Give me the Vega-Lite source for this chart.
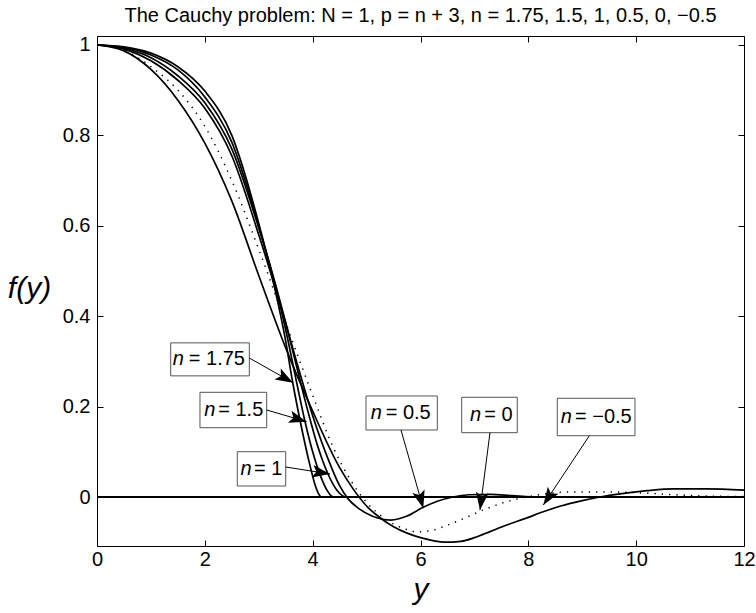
{
  "$schema": "https://vega.github.io/schema/vega-lite/v6.json",
  "width": 647,
  "height": 510,
  "autosize": "none",
  "padding": {"left": 97, "top": 36, "right": 12, "bottom": 67},
  "background": "white",
  "config": {
    "view": {"stroke": "black", "strokeWidth": 1},
    "font": "Liberation Sans",
    "axis": {
      "domain": false, "grid": false, "tickColor": "black", "tickSize": -6, "tickWidth": 1, "labelFlush": false,
      "labelFont": "Liberation Sans", "labelFontSize": 20, "labelColor": "black", "labelPadding": 13,
      "titleFont": "Liberation Sans", "titleFontStyle": "italic", "titleFontWeight": "normal", "titleFontSize": 30, "titleColor": "black"
    }
  },
  "title": {"text": "The Cauchy problem: N = 1, p = n + 3, n = 1.75, 1.5, 1, 0.5, 0, −0.5", "font": "Liberation Sans", "fontSize": 20, "fontWeight": "normal", "color": "black", "offset": 9, "anchor": "middle"},
  "datasets": {
    "curves": [
      {"n": 1.75, "y": 0, "f": 1}, {"n": 1.75, "y": 0.5, "f": 0.996}, {"n": 1.75, "y": 1, "f": 0.982}, {"n": 1.75, "y": 1.5, "f": 0.952}, {"n": 1.75, "y": 2, "f": 0.898}, {"n": 1.75, "y": 2.5, "f": 0.8}, {"n": 1.75, "y": 3, "f": 0.605}, {"n": 1.75, "y": 3.3, "f": 0.46}, {"n": 1.75, "y": 3.5, "f": 0.345}, {"n": 1.75, "y": 3.62, "f": 0.26}, {"n": 1.75, "y": 3.8, "f": 0.15}, {"n": 1.75, "y": 3.95, "f": 0.07}, {"n": 1.75, "y": 4.05, "f": 0.025}, {"n": 1.75, "y": 4.12, "f": 0.005}, {"n": 1.75, "y": 4.16, "f": 0}, {"n": 1.75, "y": 12, "f": 0},
      {"n": 1.5, "y": 0, "f": 1}, {"n": 1.5, "y": 0.5, "f": 0.995}, {"n": 1.5, "y": 1, "f": 0.978}, {"n": 1.5, "y": 1.5, "f": 0.945}, {"n": 1.5, "y": 2, "f": 0.885}, {"n": 1.5, "y": 2.5, "f": 0.785}, {"n": 1.5, "y": 3, "f": 0.6}, {"n": 1.5, "y": 3.3, "f": 0.47}, {"n": 1.5, "y": 3.5, "f": 0.37}, {"n": 1.5, "y": 3.7, "f": 0.255}, {"n": 1.5, "y": 3.86, "f": 0.166}, {"n": 1.5, "y": 4, "f": 0.1}, {"n": 1.5, "y": 4.15, "f": 0.045}, {"n": 1.5, "y": 4.27, "f": 0.014}, {"n": 1.5, "y": 4.35, "f": 0.002}, {"n": 1.5, "y": 4.4, "f": 0}, {"n": 1.5, "y": 12, "f": 0},
      {"n": 1, "y": 0, "f": 1}, {"n": 1, "y": 0.5, "f": 0.993}, {"n": 1, "y": 1, "f": 0.972}, {"n": 1, "y": 1.5, "f": 0.932}, {"n": 1, "y": 2, "f": 0.872}, {"n": 1, "y": 2.5, "f": 0.77}, {"n": 1, "y": 3, "f": 0.595}, {"n": 1, "y": 3.3, "f": 0.475}, {"n": 1, "y": 3.5, "f": 0.385}, {"n": 1, "y": 3.7, "f": 0.29}, {"n": 1, "y": 3.9, "f": 0.195}, {"n": 1, "y": 4.1, "f": 0.11}, {"n": 1, "y": 4.28, "f": 0.052}, {"n": 1, "y": 4.45, "f": 0.015}, {"n": 1, "y": 4.55, "f": 0.003}, {"n": 1, "y": 4.62, "f": 0}, {"n": 1, "y": 12, "f": 0},
      {"n": 0.5, "y": 0, "f": 1}, {"n": 0.5, "y": 0.5, "f": 0.991}, {"n": 0.5, "y": 1, "f": 0.965}, {"n": 0.5, "y": 1.5, "f": 0.922}, {"n": 0.5, "y": 2, "f": 0.86}, {"n": 0.5, "y": 2.5, "f": 0.755}, {"n": 0.5, "y": 3, "f": 0.58}, {"n": 0.5, "y": 3.3, "f": 0.465}, {"n": 0.5, "y": 3.5, "f": 0.385}, {"n": 0.5, "y": 3.7, "f": 0.3}, {"n": 0.5, "y": 4, "f": 0.18}, {"n": 0.5, "y": 4.3, "f": 0.08}, {"n": 0.5, "y": 4.5, "f": 0.025}, {"n": 0.5, "y": 4.65, "f": -0.003}, {"n": 0.5, "y": 4.85, "f": -0.025}, {"n": 0.5, "y": 5.1, "f": -0.042}, {"n": 0.5, "y": 5.45, "f": -0.051}, {"n": 0.5, "y": 5.75, "f": -0.042}, {"n": 0.5, "y": 6.03, "f": -0.024}, {"n": 0.5, "y": 6.3, "f": -0.01}, {"n": 0.5, "y": 6.6, "f": 0}, {"n": 0.5, "y": 6.9, "f": 0.005}, {"n": 0.5, "y": 7.3, "f": 0.006}, {"n": 0.5, "y": 7.7, "f": 0.003}, {"n": 0.5, "y": 8.2, "f": 0}, {"n": 0.5, "y": 12, "f": 0},
      {"n": 0, "y": 0, "f": 1}, {"n": 0, "y": 0.5, "f": 0.988}, {"n": 0, "y": 1, "f": 0.952}, {"n": 0, "y": 1.5, "f": 0.9}, {"n": 0, "y": 2, "f": 0.82}, {"n": 0, "y": 2.5, "f": 0.7}, {"n": 0, "y": 3, "f": 0.548}, {"n": 0, "y": 3.5, "f": 0.385}, {"n": 0, "y": 4, "f": 0.225}, {"n": 0, "y": 4.38, "f": 0.11}, {"n": 0, "y": 4.7, "f": 0.038}, {"n": 0, "y": 5, "f": -0.012}, {"n": 0, "y": 5.2, "f": -0.035}, {"n": 0, "y": 5.43, "f": -0.055}, {"n": 0, "y": 5.7, "f": -0.07}, {"n": 0, "y": 5.93, "f": -0.077}, {"n": 0, "y": 6.2, "f": -0.074}, {"n": 0, "y": 6.55, "f": -0.06}, {"n": 0, "y": 6.85, "f": -0.045}, {"n": 0, "y": 7.16, "f": -0.029}, {"n": 0, "y": 7.5, "f": -0.014}, {"n": 0, "y": 7.84, "f": -0.003}, {"n": 0, "y": 8.2, "f": 0.005}, {"n": 0, "y": 8.8, "f": 0.011}, {"n": 0, "y": 9.5, "f": 0.011}, {"n": 0, "y": 10.1, "f": 0.009}, {"n": 0, "y": 10.7, "f": 0.005}, {"n": 0, "y": 11.3, "f": 0.002}, {"n": 0, "y": 12, "f": 0.001},
      {"n": -0.5, "y": 0, "f": 1}, {"n": -0.5, "y": 0.5, "f": 0.987}, {"n": -0.5, "y": 1, "f": 0.946}, {"n": -0.5, "y": 1.5, "f": 0.878}, {"n": -0.5, "y": 2, "f": 0.783}, {"n": -0.5, "y": 2.5, "f": 0.655}, {"n": -0.5, "y": 3, "f": 0.49}, {"n": -0.5, "y": 3.5, "f": 0.33}, {"n": -0.5, "y": 4, "f": 0.19}, {"n": -0.5, "y": 4.5, "f": 0.065}, {"n": -0.5, "y": 4.75, "f": 0.018}, {"n": -0.5, "y": 5, "f": -0.02}, {"n": -0.5, "y": 5.25, "f": -0.046}, {"n": -0.5, "y": 5.5, "f": -0.066}, {"n": -0.5, "y": 5.75, "f": -0.08}, {"n": -0.5, "y": 6, "f": -0.09}, {"n": -0.5, "y": 6.25, "f": -0.097}, {"n": -0.5, "y": 6.45, "f": -0.1}, {"n": -0.5, "y": 6.75, "f": -0.098}, {"n": -0.5, "y": 7, "f": -0.09}, {"n": -0.5, "y": 7.3, "f": -0.076}, {"n": -0.5, "y": 7.6, "f": -0.062}, {"n": -0.5, "y": 8, "f": -0.045}, {"n": -0.5, "y": 8.22, "f": -0.035}, {"n": -0.5, "y": 8.6, "f": -0.02}, {"n": -0.5, "y": 9, "f": -0.008}, {"n": -0.5, "y": 9.33, "f": 0}, {"n": -0.5, "y": 9.7, "f": 0.007}, {"n": -0.5, "y": 10.2, "f": 0.014}, {"n": -0.5, "y": 10.7, "f": 0.018}, {"n": -0.5, "y": 11.3, "f": 0.018}, {"n": -0.5, "y": 12, "f": 0.015}
    ],
    "notes": [
      {"lab": "= 1.75", "x1": 1.367, "x2": 2.825, "y1": 0.268, "y2": 0.341, "ym": 0.3045, "lx": 1.404, "rx": 2.745, "ax": 2.825, "ay": 0.3075, "tx": 3.635, "ty": 0.253, "heading": 29.4},
      {"lab": "= 1.5", "x1": 1.91, "x2": 3.147, "y1": 0.1533, "y2": 0.2316, "ym": 0.1925, "lx": 1.99, "rx": 3.084, "ax": 3.147, "ay": 0.1925, "tx": 3.889, "ty": 0.1666, "heading": 16.3},
      {"lab": "= 1", "x1": 2.602, "x2": 3.5, "y1": 0.0243, "y2": 0.1002, "ym": 0.0623, "lx": 2.66, "rx": 3.437, "ax": 3.5, "ay": 0.0664, "tx": 4.321, "ty": 0.0509, "heading": 9.0},
      {"lab": "= 0.5", "x1": 4.989, "x2": 6.312, "y1": 0.1482, "y2": 0.2235, "ym": 0.1858, "lx": 5.076, "rx": 6.189, "ax": 5.638, "ay": 0.1482, "tx": 6.052, "ty": -0.025, "heading": 74.1},
      {"lab": "= 0", "x1": 6.764, "x2": 7.795, "y1": 0.1423, "y2": 0.2206, "ym": 0.1815, "lx": 6.918, "rx": 7.71, "ax": 7.289, "ay": 0.1423, "tx": 7.103, "ty": -0.0288, "heading": 97.4},
      {"lab": "= −0.5", "x1": 8.537, "x2": 9.978, "y1": 0.1356, "y2": 0.2184, "ym": 0.177, "lx": 8.6, "rx": 9.917, "ax": 9.131, "ay": 0.1356, "tx": 8.278, "ty": -0.0177, "heading": 123.6}
    ]
  },
  "resolve": {"axis": {"x": "independent", "y": "independent"}},
  "layer": [
    {
      "data": {"name": "curves"},
      "transform": [{"filter": "datum.n != 0"}],
      "mark": {"type": "line", "color": "black", "strokeWidth": 1.7, "interpolate": "monotone", "clip": true},
      "encoding": {
        "x": {"field": "y", "type": "quantitative", "scale": {"domain": [0, 12], "nice": false, "zero": false},
          "axis": {"orient": "bottom", "values": [0, 2, 4, 6, 8, 10, 12], "labelPadding": 9, "title": "y", "titleX": 323.5, "titleY": 52, "titleBaseline": "alphabetic", "titleAlign": "center"}},
        "y": {"field": "f", "type": "quantitative", "scale": {"domain": [-0.1084, 1.0199], "nice": false, "zero": false},
          "axis": {"orient": "left", "values": [0, 0.2, 0.4, 0.6, 0.8, 1], "format": "~g", "title": "f(y)", "titleAngle": 0, "titleX": -68, "titleY": 261, "titleAlign": "center", "titleBaseline": "alphabetic"}},
        "detail": {"field": "n", "type": "nominal"}
      }
    },
    {
      "data": {"name": "curves"},
      "transform": [{"filter": "datum.n == 0"}],
      "mark": {"type": "line", "color": "black", "strokeWidth": 1.5, "strokeDash": [1.3, 6], "strokeCap": "butt", "interpolate": "monotone", "clip": true},
      "encoding": {
        "x": {"field": "y", "type": "quantitative", "scale": {"domain": [0, 12], "nice": false, "zero": false}, "axis": null},
        "y": {"field": "f", "type": "quantitative", "scale": {"domain": [-0.1084, 1.0199], "nice": false, "zero": false}, "axis": null}
      }
    },
    {
      "data": {"name": "curves"},
      "transform": [{"filter": "datum.n == 1.75"}],
      "mark": {"type": "point", "opacity": 0},
      "encoding": {
        "x": {"field": "y", "type": "quantitative", "scale": {"domain": [0, 12], "nice": false, "zero": false},
          "axis": {"orient": "top", "values": [0, 2, 4, 6, 8, 10, 12], "labels": false, "title": null}},
        "y": {"field": "f", "type": "quantitative", "scale": {"domain": [-0.1084, 1.0199], "nice": false, "zero": false},
          "axis": {"orient": "right", "values": [0, 0.2, 0.4, 0.6, 0.8, 1], "labels": false, "title": null}}
      }
    },
    {
      "data": {"values": [{"z": 0}]},
      "mark": {"type": "rule", "color": "black", "strokeWidth": 2.2},
      "encoding": {
        "y": {"field": "z", "type": "quantitative", "scale": {"domain": [-0.1084, 1.0199], "nice": false, "zero": false}, "axis": null}
      }
    },
    {
      "data": {"name": "notes"},
      "mark": {"type": "rect", "fill": "white", "stroke": "#555555", "strokeWidth": 1},
      "encoding": {
        "x": {"field": "x1", "type": "quantitative", "scale": {"domain": [0, 12], "nice": false, "zero": false}, "axis": null},
        "x2": {"field": "x2"},
        "y": {"field": "y1", "type": "quantitative", "scale": {"domain": [-0.1084, 1.0199], "nice": false, "zero": false}, "axis": null},
        "y2": {"field": "y2"}
      }
    },
    {
      "data": {"name": "notes"},
      "mark": {"type": "rule", "color": "black", "strokeWidth": 1},
      "encoding": {
        "x": {"field": "ax", "type": "quantitative", "scale": {"domain": [0, 12], "nice": false, "zero": false}, "axis": null},
        "x2": {"field": "tx"},
        "y": {"field": "ay", "type": "quantitative", "scale": {"domain": [-0.1084, 1.0199], "nice": false, "zero": false}, "axis": null},
        "y2": {"field": "ty"}
      }
    },
    {
      "data": {"name": "notes"},
      "mark": {"type": "point", "shape": "M0,0L-1,-0.36L-0.78,0L-1,0.36Z", "filled": true, "color": "black", "opacity": 1, "size": 1250, "strokeWidth": 0},
      "encoding": {
        "x": {"field": "tx", "type": "quantitative", "scale": {"domain": [0, 12], "nice": false, "zero": false}, "axis": null},
        "y": {"field": "ty", "type": "quantitative", "scale": {"domain": [-0.1084, 1.0199], "nice": false, "zero": false}, "axis": null},
        "angle": {"field": "heading", "type": "quantitative", "scale": null}
      }
    },
    {
      "data": {"name": "notes"},
      "mark": {"type": "text", "text": "n", "font": "Liberation Sans", "fontSize": 20, "fontStyle": "italic", "align": "left", "baseline": "middle", "color": "black"},
      "encoding": {
        "x": {"field": "lx", "type": "quantitative", "scale": {"domain": [0, 12], "nice": false, "zero": false}, "axis": null},
        "y": {"field": "ym", "type": "quantitative", "scale": {"domain": [-0.1084, 1.0199], "nice": false, "zero": false}, "axis": null}
      }
    },
    {
      "data": {"name": "notes"},
      "mark": {"type": "text", "font": "Liberation Sans", "fontSize": 20, "align": "right", "baseline": "middle", "color": "black"},
      "encoding": {
        "x": {"field": "rx", "type": "quantitative", "scale": {"domain": [0, 12], "nice": false, "zero": false}, "axis": null},
        "y": {"field": "ym", "type": "quantitative", "scale": {"domain": [-0.1084, 1.0199], "nice": false, "zero": false}, "axis": null},
        "text": {"field": "lab", "type": "nominal"}
      }
    }
  ]
}
